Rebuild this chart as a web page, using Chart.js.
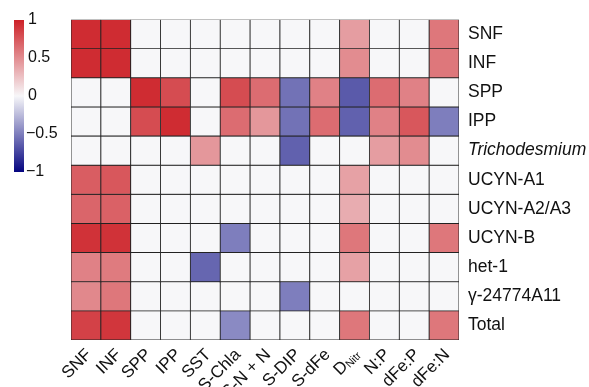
<!DOCTYPE html>
<html lang="en">
<head>
    <meta charset="UTF-8">
    <title>Correlation heatmap</title>
    <script src="https://cdn.jsdelivr.net/npm/chart.js@4.4.0/dist/chart.umd.min.js"></script>
    <style>
        body { margin: 0; background: #fff; }
    </style>
</head>
<body>
<canvas id="chart" width="589" height="387"></canvas>

<script>
    // columns (bottom labels) and rows (right labels)
    const cols = ['SNF', 'INF', 'SPP', 'IPP', 'SST', 'S-Chla', 'S-N + N', 'S-DIP', 'S-dFe', 'DNitr', 'N:P', 'dFe:P', 'dFe:N'];
    const rows = ['SNF', 'INF', 'SPP', 'IPP', 'Trichodesmium', 'UCYN-A1', 'UCYN-A2/A3', 'UCYN-B', 'het-1', 'γ-24774A11', 'Total'];

    // correlation coefficients, one array per row
    const values = [
        [0.95, 0.95, 0, 0, 0, 0, 0, 0, 0, 0.42, 0, 0, 0.6],
        [0.95, 0.95, 0, 0, 0, 0, 0, 0, 0, 0.5, 0, 0, 0.6],
        [0, 0, 0.95, 0.8, 0, 0.8, 0.65, -0.55, 0.55, -0.65, 0.65, 0.55, 0],
        [0, 0, 0.8, 0.95, 0, 0.65, 0.45, -0.55, 0.65, -0.62, 0.55, 0.75, -0.5],
        [0, 0, 0, 0, 0.45, 0, 0, -0.62, 0, 0, 0.42, 0.5, 0],
        [0.72, 0.75, 0, 0, 0, 0, 0, 0, 0, 0.4, 0, 0, 0],
        [0.68, 0.7, 0, 0, 0, 0, 0, 0, 0, 0.35, 0, 0, 0],
        [0.92, 0.92, 0, 0, 0, -0.5, 0, 0, 0, 0.6, 0, 0, 0.6],
        [0.55, 0.58, 0, 0, -0.6, 0, 0, 0, 0, 0.4, 0, 0, 0],
        [0.52, 0.6, 0, 0, 0, 0, 0, -0.5, 0, 0, 0, 0, 0],
        [0.85, 0.9, 0, 0, 0, -0.45, 0, 0, 0, 0.6, 0, 0, 0.6]
    ];

    const colorbarTicks = [1, 0.5, 0, -0.5, -1];

    const RED = [205, 33, 39];
    const MID = [247, 247, 249];
    const BLUE = [5, 5, 128];

    function colorFor(v) {
        let end = v >= 0 ? RED : BLUE;
        let t = Math.min(1, Math.abs(v));
        let c = MID.map((m, k) => Math.round(m + (end[k] - m) * t));
        return `rgb(${c[0]}, ${c[1]}, ${c[2]})`;
    }

    const FONT = '"Liberation Sans", Arial, sans-serif';
    Chart.defaults.font.family = FONT;
    Chart.defaults.color = '#111';

    const overlay = {
        id: 'overlay',
        afterDraw(chart) {
            const c = chart.ctx;
            const xs = chart.scales.x;
            const area = chart.chartArea;

            // colour bar
            const top = 20, bottom = 172, left = 14, w = 10;
            let g = c.createLinearGradient(0, top, 0, bottom);
            g.addColorStop(0, colorFor(1));
            g.addColorStop(0.5, colorFor(0));
            g.addColorStop(1, colorFor(-1));
            c.save();
            c.fillStyle = g;
            c.fillRect(left, top, w, bottom - top);
            c.fillStyle = '#111';
            c.font = '16px ' + FONT;
            c.textAlign = 'left';
            c.textBaseline = 'middle';
            colorbarTicks.forEach(t => {
                let y = top + (1 - t) / 2 * (bottom - top);
                let s = String(Math.abs(t));
                c.fillText((t < 0 ? '\u2212' : '') + s, t < 0 ? 26 : 28, y);
            });

            // rotated column labels
            cols.forEach((lab, i) => {
                let x = xs.getPixelForValue(i) + 3;
                let y = area.bottom + 12;
                c.save();
                c.translate(x, y);
                c.rotate(-Math.PI / 4);
                c.textAlign = 'left';
                c.textBaseline = 'middle';
                if (lab === 'DNitr') {
                    c.font = '17px ' + FONT;
                    let wD = c.measureText('D').width;
                    c.font = '11px ' + FONT;
                    let wS = c.measureText('Nitr').width;
                    c.font = '17px ' + FONT;
                    c.fillText('D', -(wD + wS), 0);
                    c.font = '11px ' + FONT;
                    c.fillText('Nitr', -wS, 3);
                } else {
                    c.font = '17px ' + FONT;
                    let wl = c.measureText(lab).width;
                    c.fillText(lab, -wl, 0);
                }
                c.restore();
            });
            c.restore();
        }
    };

    let ctx = document.getElementById('chart').getContext('2d');
    let chart = new Chart(ctx, {
        type: 'bar',
        data: {
            labels: cols,
            datasets: rows.map((r, i) => ({
                label: r,
                data: cols.map(() => [i, i + 1]),
                backgroundColor: values[i].map(colorFor),
                borderColor: '#222',
                borderWidth: 0.8,
                borderSkipped: false,
                barPercentage: 1,
                categoryPercentage: 1,
                grouped: false
            }))
        },
        options: {
            responsive: false,
            animation: false,
            devicePixelRatio: 1,
            layout: { padding: { left: 71, top: 10, bottom: 47, right: 0 } },
            plugins: {
                legend: { display: false },
                tooltip: { enabled: false }
            },
            scales: {
                x: { type: 'category', display: false },
                y: {
                    type: 'linear',
                    min: 0,
                    max: 11,
                    reverse: true,
                    position: 'right',
                    grid: { display: false, drawTicks: false },
                    border: { display: false },
                    afterBuildTicks: s => { s.ticks = rows.map((r, i) => ({ value: i + 0.5 })); },
                    afterFit: s => { s.width = 130; },
                    ticks: {
                        autoSkip: false,
                        padding: 9,
                        color: '#111',
                        font: c => ({ size: 17.5, style: rows[c.index] === 'Trichodesmium' ? 'italic' : 'normal' }),
                        callback: v => rows[Math.floor(v)]
                    }
                }
            }
        },
        plugins: [overlay]
    });
</script>
</body>
</html>
